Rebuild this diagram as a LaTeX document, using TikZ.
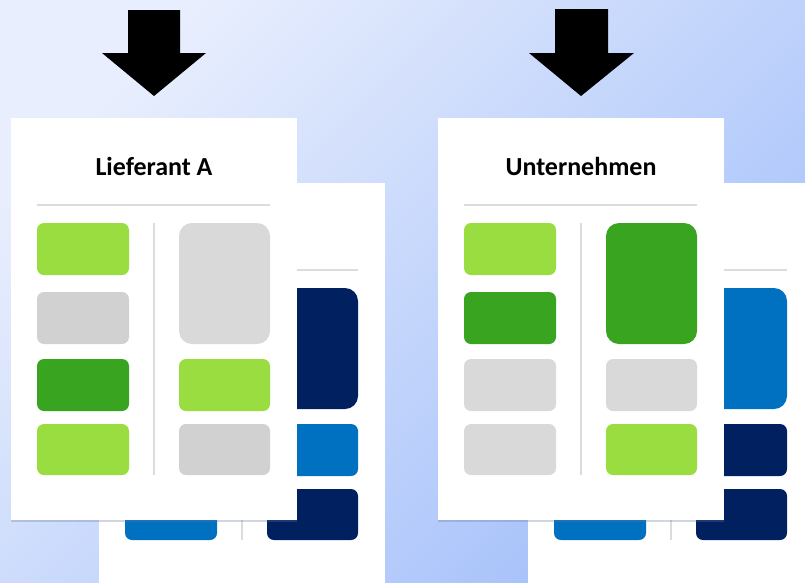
\documentclass[tikz,border=0pt]{standalone}
\usepackage{fontspec}
\setmainfont{Carlito}
\usetikzlibrary{shadows}

\definecolor{bgtop}{HTML}{E8EEFD}
\definecolor{bgbot}{HTML}{A4C0FA}
\definecolor{lightgreen}{HTML}{99DD40}
\definecolor{darkgreen}{HTML}{38A420}
\definecolor{tilegray}{HTML}{D9D9D9}
\definecolor{darkgray}{HTML}{D1D1D1}
\definecolor{rulegray}{HTML}{DCDCDC}
\definecolor{navy}{HTML}{002060}
\definecolor{msblue}{HTML}{0070C0}

% one card: #1 name, #2 title, #3-#6 left column, #7 tall tile, #8-#9 right column
\newcommand{\cardbody}[9]{%
  \fill[card] (0,0) rectangle (286,402);
  \node[title] (#1) at (143,48) {#2};
  \draw[rule] (26,87) -- (259,87);
  \draw[rule, line width=1.5pt] (143,105) -- (143,357);
  \fill[tile, #3] (26,105) rectangle (118,157);
  \fill[tile, #4] (26,174) rectangle (118,226);
  \fill[tile, #5] (26,241) rectangle (118,293);
  \fill[tile, #6] (26,306) rectangle (118,357);
  \fill[tile, rounded corners=13pt, #7] (168,105) rectangle (259,226);
  \fill[tile, #8] (168,241) rectangle (259,293);
  \fill[tile, #9] (168,306) rectangle (259,357);
}

\begin{document}
\begin{tikzpicture}[x=1pt, y=-1pt,
    card/.style={fill=white, drop shadow={shadow xshift=0pt, shadow yshift=-2pt,
                 opacity=.3, fill=navy!60}},
    tile/.style={rounded corners=7pt},
    rule/.style={draw=rulegray, line width=2pt},
    title/.style={font=\bfseries\fontsize{26}{30}\selectfont, inner sep=0pt},
    downarrow/.style={fill=black}]

  \useasboundingbox (0,0) rectangle (805,582);
  \clip (0,0) rectangle (805,582);

  % Background
  \shade[shading=axis, top color=bgtop, bottom color=bgbot, shading angle=45]
    (0,0) rectangle (805,582);

  % Arrows
  \fill[downarrow] (128,10) -- (180,10) -- (180,53) -- (206,53) -- (154,96)
    -- (102,53) -- (128,53) -- cycle;
  \fill[downarrow] (555,9) -- (608,9) -- (608,53) -- (634,53) -- (581,96)
    -- (529,53) -- (555,53) -- cycle;

  % Lieferant A
  \begin{scope}[shift={(99,183)}]
    \cardbody{backA}{}{msblue}{navy}{msblue}{msblue}{navy}{msblue}{navy}
  \end{scope}
  \begin{scope}[shift={(11,118)}]
    \cardbody{lieferant}{Lieferant A}{lightgreen}{darkgray}{darkgreen}{lightgreen}
      {tilegray}{lightgreen}{darkgray}
  \end{scope}

  % Unternehmen
  \begin{scope}[shift={(528,183)}]
    \cardbody{backU}{}{msblue}{navy}{msblue}{msblue}{msblue}{navy}{navy}
  \end{scope}
  \begin{scope}[shift={(438,118)}]
    \cardbody{unternehmen}{Unternehmen}{lightgreen}{darkgreen}{tilegray}{tilegray}
      {darkgreen}{tilegray}{lightgreen}
  \end{scope}

\end{tikzpicture}
\end{document}
